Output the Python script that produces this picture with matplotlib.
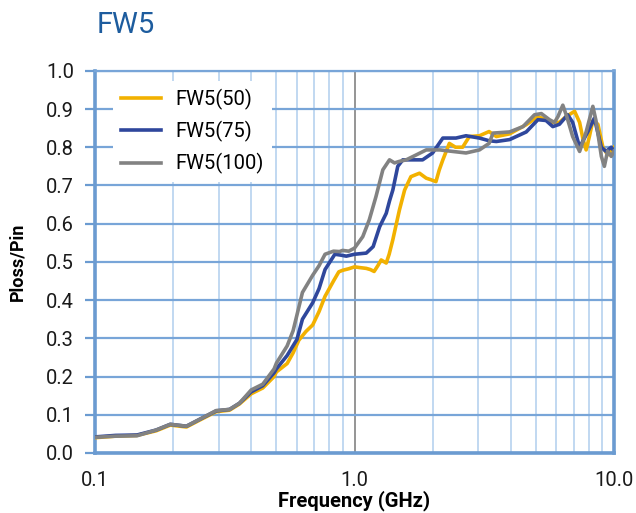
import matplotlib.pyplot as plt
from matplotlib.ticker import FixedLocator, FixedFormatter, NullFormatter

plt.rcParams['font.family'] = ['Roboto', 'DejaVu Sans']

# FW5(50)
freq_50 = [0.10, 0.12, 0.145, 0.172, 0.195, 0.225, 0.253, 0.293, 0.33, 0.36,
           0.40, 0.443, 0.49, 0.50, 0.55, 0.58, 0.61, 0.65, 0.69, 0.73,
           0.77, 0.83, 0.87, 0.90, 0.95, 1.00, 1.05, 1.11, 1.15, 1.19,
           1.23, 1.267, 1.325, 1.36, 1.405, 1.45, 1.49, 1.56, 1.65, 1.72,
           1.78, 1.89, 1.97, 2.06, 2.12, 2.19, 2.32, 2.45, 2.61, 2.77,
           3.03, 3.3, 3.52, 3.96, 4.59, 5.09, 5.47, 5.81, 6.16, 6.53,
           7.05, 7.37, 7.6, 7.81, 8.05, 8.29, 8.67, 9.06, 9.45, 9.76, 10.0]
ploss_50 = [0.040, 0.044, 0.046, 0.058, 0.073, 0.068, 0.086, 0.108, 0.112, 0.128,
            0.155, 0.170, 0.200, 0.212, 0.234, 0.262, 0.295, 0.318, 0.335, 0.370,
            0.410, 0.450, 0.474, 0.478, 0.482, 0.487, 0.485, 0.483, 0.480, 0.475,
            0.490, 0.505, 0.497, 0.520, 0.558, 0.600, 0.636, 0.688, 0.723, 0.728,
            0.732, 0.719, 0.715, 0.710, 0.740, 0.767, 0.810, 0.800, 0.800, 0.828,
            0.830, 0.841, 0.828, 0.835, 0.859, 0.880, 0.872, 0.865, 0.865, 0.880,
            0.894, 0.865, 0.820, 0.793, 0.830, 0.870, 0.860, 0.800, 0.780, 0.790, 0.800]

# FW5(75)
freq_75 = [0.10, 0.12, 0.145, 0.172, 0.195, 0.225, 0.253, 0.293, 0.33, 0.36,
           0.40, 0.443, 0.49, 0.50, 0.55, 0.60, 0.63, 0.69, 0.73, 0.77,
           0.84, 0.88, 0.93, 1.00, 1.11, 1.18, 1.25, 1.325, 1.365, 1.405,
           1.468, 1.535, 1.68, 1.83, 2.0, 2.19, 2.46, 2.69, 3.03, 3.3,
           3.52, 3.96, 4.59, 5.09, 5.47, 5.81, 6.16, 6.63, 6.93, 7.37,
           7.92, 8.4, 8.94, 9.32, 9.76, 10.0]
ploss_75 = [0.042, 0.046, 0.047, 0.060, 0.075, 0.070, 0.088, 0.110, 0.114, 0.130,
            0.160, 0.176, 0.210, 0.220, 0.255, 0.297, 0.350, 0.393, 0.430, 0.480,
            0.520, 0.518, 0.515, 0.520, 0.523, 0.540, 0.592, 0.627, 0.660, 0.688,
            0.750, 0.767, 0.767, 0.767, 0.785, 0.824, 0.824, 0.830, 0.824, 0.817,
            0.815, 0.820, 0.840, 0.872, 0.870, 0.854, 0.860, 0.885, 0.865, 0.800,
            0.840, 0.876, 0.800, 0.789, 0.800, 0.790]

# FW5(100)
freq_100 = [0.10, 0.12, 0.145, 0.172, 0.195, 0.225, 0.253, 0.293, 0.33, 0.36,
            0.40, 0.443, 0.49, 0.50, 0.55, 0.58, 0.63, 0.69, 0.73, 0.77,
            0.83, 0.875, 0.90, 0.95, 1.00, 1.076, 1.14, 1.21, 1.286, 1.364,
            1.426, 1.49, 1.582, 1.73, 1.89, 2.13, 2.39, 2.69, 3.03, 3.3,
            3.42, 3.96, 4.46, 4.94, 5.25, 5.64, 5.9, 6.08, 6.35, 6.58,
            6.93, 7.37, 7.81, 8.29, 8.52, 8.94, 9.18, 9.45, 9.76, 10.0]
ploss_100 = [0.041, 0.044, 0.045, 0.060, 0.075, 0.070, 0.088, 0.111, 0.114, 0.130,
             0.165, 0.180, 0.220, 0.235, 0.280, 0.320, 0.420, 0.465, 0.490, 0.520,
             0.528, 0.527, 0.530, 0.528, 0.536, 0.566, 0.610, 0.671, 0.741, 0.767,
             0.759, 0.763, 0.767, 0.780, 0.793, 0.793, 0.789, 0.785, 0.793, 0.810,
             0.837, 0.840, 0.854, 0.885, 0.888, 0.872, 0.865, 0.880, 0.910, 0.880,
             0.828, 0.789, 0.840, 0.907, 0.870, 0.776, 0.750, 0.790, 0.776, 0.790]

y_ticks = [0.0, 0.1, 0.2, 0.3, 0.4, 0.5, 0.6, 0.7, 0.8, 0.9, 1.0]
x_ticks = [0.1, 1.0, 10.0]
x_tick_labels = ['0.1', '1.0', '10.0']

frame_blue = '#6b9bd1'
grid_blue = '#78a5d8'
minor_blue = '#bcd6f0'

fig = plt.figure(figsize=(6.36, 5.13), dpi=100)
ax = fig.add_axes([0.1494, 0.117, 0.816, 0.745])

ax.plot(freq_50, ploss_50, color='#f2b100', lw=2.6, label='FW5(50)',
        solid_joinstyle='round', zorder=3)
ax.plot(freq_75, ploss_75, color='#2f479c', lw=2.6, label='FW5(75)',
        solid_joinstyle='round', zorder=4)
ax.plot(freq_100, ploss_100, color='#828282', lw=2.6, label='FW5(100)',
        solid_joinstyle='round', zorder=5)

ax.set_xscale('log')
ax.set_xlim(0.1, 10)
ax.set_ylim(0, 1)

ax.xaxis.set_major_locator(FixedLocator(x_ticks))
ax.xaxis.set_major_formatter(FixedFormatter(x_tick_labels))
minor = [m * d for d in (0.1, 1.0) for m in range(2, 10)]
ax.xaxis.set_minor_locator(FixedLocator(minor))
ax.xaxis.set_minor_formatter(NullFormatter())
ax.set_yticks(y_ticks)
ax.set_yticklabels([f'{v:.1f}' for v in y_ticks])

ax.set_axisbelow(True)
ax.grid(True, axis='y', which='major', color=grid_blue, lw=1.6)
ax.grid(True, axis='x', which='minor', color=minor_blue, lw=1.3)
ax.grid(True, axis='x', which='major', color='#8c8c8c', lw=1.3)

for side in ('left', 'bottom', 'right'):
    ax.spines[side].set_color(frame_blue)
    ax.spines[side].set_linewidth(2.6)
ax.spines['top'].set_color(grid_blue)
ax.spines['top'].set_linewidth(1.6)

ax.tick_params(axis='y', which='major', direction='out', length=7, width=1.6,
               color=frame_blue, labelsize=14.5, pad=8, labelcolor='#1a1a1a')
ax.tick_params(axis='x', which='both', length=0, labelsize=14.5, pad=13,
               labelcolor='#1a1a1a')

ax.set_xlabel('Frequency (GHz)', fontsize=14.5, fontweight='bold', labelpad=0)
ax.set_ylabel('Ploss/Pin', fontsize=13, fontweight='bold', labelpad=14)

leg = ax.legend(loc='upper left', bbox_to_anchor=(0.015, 1.0), fontsize=14.5,
                frameon=True, facecolor='white', edgecolor='none', framealpha=1,
                fancybox=False, handlelength=2.0, handletextpad=0.7,
                labelspacing=0.55, borderpad=0.4)
for line in leg.get_lines():
    line.set_linewidth(2.6)

fig.text(0.152, 0.952, 'FW5', fontsize=21, color='#1d5c9e', va='center', ha='left')

fig.savefig('out.png', dpi=100)
